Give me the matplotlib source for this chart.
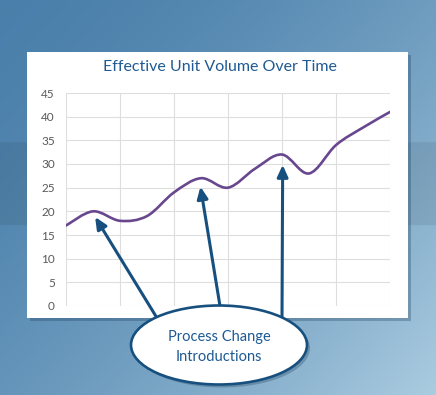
import numpy as np
import matplotlib
matplotlib.use("Agg")
import matplotlib.pyplot as plt
from matplotlib.path import Path
from matplotlib.patches import PathPatch, Rectangle, Ellipse, FancyArrowPatch

# ---- data ----
title = "Effective Unit Volume Over Time"
periods = list(range(13))
volume = [17, 20, 18, 19, 24, 27, 25, 29, 32, 28, 34, 37.7, 41]
y_ticks = [0, 5, 10, 15, 20, 25, 30, 35, 40, 45]
callout_text = "Process Change\nIntroductions"
change_points = [1, 5, 8]  # indices of the peaks the arrows point to

W, H = 436, 395
fig = plt.figure(figsize=(W / 100, H / 100), dpi=100)

# ---- background gradient ----
bg = fig.add_axes([0, 0, 1, 1])
bg.set_xlim(0, W); bg.set_ylim(H, 0); bg.axis("off")
xx, yy = np.meshgrid(np.linspace(0, 1, 200), np.linspace(0, 1, 200))
t = np.clip(0.55 * xx + 0.45 * yy, 0, 1) ** 1.6
c0 = np.array([0.29, 0.50, 0.67]); c1 = np.array([0.67, 0.80, 0.88])
img = c0[None, None, :] * (1 - t[..., None]) + c1[None, None, :] * t[..., None]
band = (yy > 142 / H) & (yy < 226 / H)
img[band] *= 0.92
bg.imshow(img, extent=[0, W, H, 0], aspect="auto", zorder=0)

# panel + shadow
bg.add_patch(Rectangle((30, 55), 381, 266, facecolor="#1d3d5a", alpha=0.3, edgecolor="none", zorder=1))
bg.add_patch(Rectangle((27, 52), 381, 266, facecolor="white", edgecolor="none", zorder=2))
bg.text(219.5, 67, title, ha="center", va="center", fontsize=11.5, color="#1f5a93",
        family=["Lato", "DejaVu Sans"], zorder=3)

# ---- main chart ----
ax = fig.add_axes([66 / W, 1 - 306 / H, (390 - 66) / W, (306 - 93) / H])
ax.set_facecolor("none")
ax.set_xlim(0, 12); ax.set_ylim(0, 45)
ax.set_xticks(range(0, 13, 2)); ax.set_yticks(y_ticks)
ax.set_xticklabels([])
ax.tick_params(length=0)
ax.tick_params(axis="y", pad=8, labelsize=8.5, labelcolor="#595959")
for lab in ax.get_yticklabels():
    lab.set_family(["Lato", "DejaVu Sans"])
ax.grid(True, color="#dedede", lw=0.8)
for s in ax.spines.values():
    s.set_visible(False)

# smooth line (Bezier through the data points, like a spreadsheet "smoothed line")
x = np.array(periods, float); y = np.array(volume, float)
verts = [(x[0], y[0])]; codes = [Path.MOVETO]
n = len(x)
for i in range(n - 1):
    p0 = np.array([x[max(i - 1, 0)], y[max(i - 1, 0)]])
    p1 = np.array([x[i], y[i]]); p2 = np.array([x[i + 1], y[i + 1]])
    p3 = np.array([x[min(i + 2, n - 1)], y[min(i + 2, n - 1)]])
    c1p = p1 + (p2 - p0) / 6.0
    c2p = p2 - (p3 - p1) / 6.0
    verts += [tuple(c1p), tuple(c2p), tuple(p2)]
    codes += [Path.CURVE4] * 3
ax.add_patch(PathPatch(Path(verts, codes), facecolor="none", edgecolor="#68478f", lw=1.9,
                       capstyle="round", zorder=3))

# ---- overlay: arrows + callout ----
ov = fig.add_axes([0, 0, 1, 1])
ov.set_xlim(0, W); ov.set_ylim(H, 0); ov.axis("off"); ov.set_facecolor("none")

arrow_color = "#17507f"
starts = [(157, 318), (220, 306), (282, 318)]
tip_offsets = [(0.8, -1.2), (-0.2, -1.8), (0.25, -2.2)]  # offsets below the peaks
for (sx, sy), idx, (dx, dy) in zip(starts, change_points, tip_offsets):
    tip_disp = ax.transData.transform((periods[idx] * 1.0 + dx * 0.1, volume[idx] + dy))
    tx, ty = ov.transData.inverted().transform(tip_disp)
    ov.add_patch(FancyArrowPatch((sx, sy), (tx, ty), arrowstyle="-|>,head_length=7,head_width=3.2",
                                 color=arrow_color, lw=2.2, mutation_scale=1, shrinkA=0, shrinkB=0,
                                 zorder=4))

ov.add_patch(Ellipse((222, 348), 176, 79, facecolor="#1d3d5a", alpha=0.3, edgecolor="none", zorder=5))
ov.add_patch(Ellipse((219, 345), 176, 79, facecolor="white", edgecolor="#17507f", lw=1.9, zorder=6))
ov.text(219, 347, callout_text, ha="center", va="center", fontsize=10.5, color="#1f5a93",
        family=["Lato", "DejaVu Sans"], linespacing=1.55, zorder=7)

fig.savefig("out.png", dpi=100)
